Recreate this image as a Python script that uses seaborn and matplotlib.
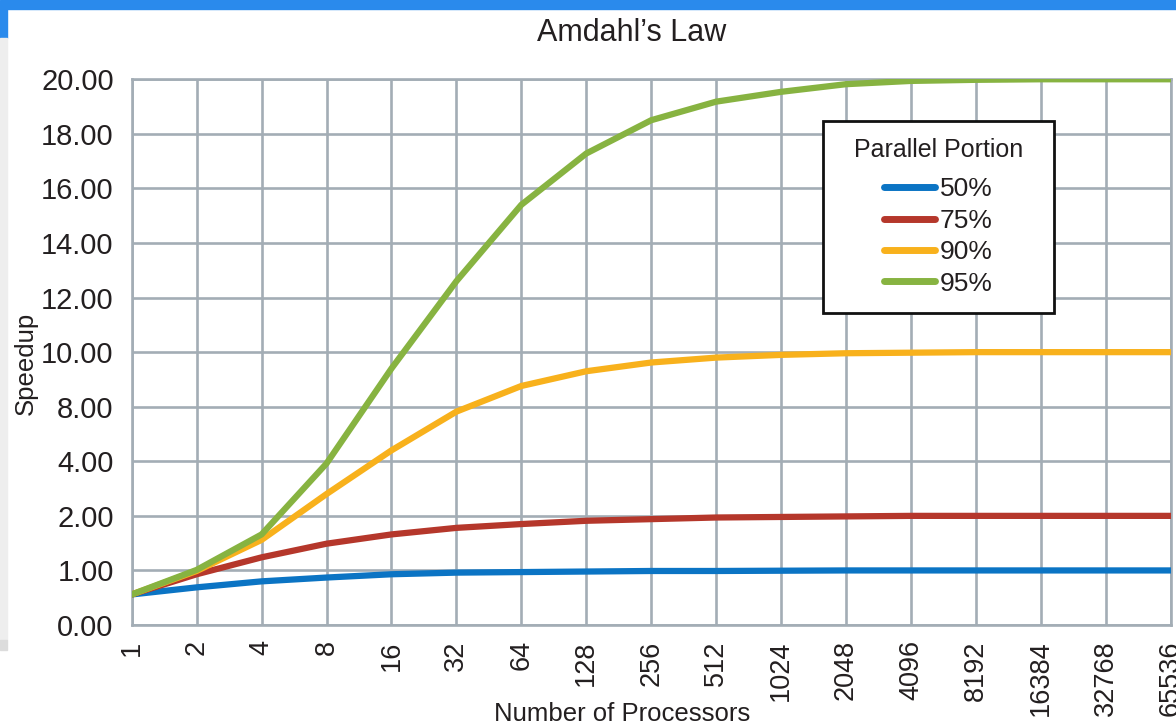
import numpy as np
import pandas as pd
import matplotlib
matplotlib.use("Agg")
import matplotlib.pyplot as plt
from matplotlib.lines import Line2D
from matplotlib.patches import Rectangle
from matplotlib.ticker import NullLocator
from matplotlib.offsetbox import DrawingArea
import seaborn as sns

# data (speedup as labelled on the odd y axis)
processors = [2 ** k for k in range(17)]
portions = ["50%", "75%", "90%", "95%"]
speedup_50 = [0.56, 0.69, 0.80, 0.87, 0.93, 0.96, 0.97, 0.98, 0.99, 0.99,
              0.995, 1.0, 1.0, 1.0, 1.0, 1.0, 1.0]
speedup_75 = [0.56, 0.93, 1.24, 1.49, 1.66, 1.78, 1.85, 1.91, 1.94, 1.97,
              1.98, 1.99, 2.0, 2.0, 2.0, 2.0, 2.0]
speedup_90 = [0.56, 0.99, 1.56, 2.80, 4.80, 7.64, 8.76, 9.30, 9.62, 9.80,
              9.90, 9.96, 9.98, 10.0, 10.0, 10.0, 10.0]
speedup_95 = [0.56, 1.01, 1.66, 3.92, 9.40, 12.6, 15.4, 17.28, 18.5, 19.18,
              19.54, 19.82, 19.94, 19.98, 20.0, 20.0, 20.0]
y_ticks = [0, 1, 2, 4, 8, 10, 12, 14, 16, 18, 20]
colors = ["#0b74c4", "#b5372b", "#f8b11c", "#87b341"]

df = pd.DataFrame({
    "processors": processors * 4,
    "speedup": speedup_50 + speedup_75 + speedup_90 + speedup_95,
    "portion": [p for p in portions for _ in processors],
})

sns.set_style("white")
plt.rcParams["font.family"] = ["Liberation Sans", "DejaVu Sans"]
text_col = "#231f20"
grid_col = "#a3adb5"

fig = plt.figure(figsize=(11.76, 7.26), dpi=100)
ax = fig.add_axes([0.112, 0.1391, 0.8835, 0.7517])

sns.lineplot(data=df, x="processors", y="speedup", hue="portion",
             palette=dict(zip(portions, colors)), linewidth=4.5,
             legend=False, ax=ax, zorder=3)

# y axis: the ticks are evenly spaced although the values are not
tick_vals = [-1] + y_ticks + [22]
tick_pos = list(range(-1, len(y_ticks) + 1))
ax.set_yscale("function", functions=(lambda v: np.interp(v, tick_vals, tick_pos),
                                     lambda p: np.interp(p, tick_pos, tick_vals)))
ax.set_ylim(0, 20)
ax.set_yticks(y_ticks)
ax.set_yticklabels([f"{v:.2f}" for v in y_ticks])

ax.set_xscale("log", base=2)
ax.set_xlim(1, 65536)
ax.set_xticks(processors)
ax.set_xticklabels([str(p) for p in processors], rotation=90)
ax.xaxis.set_minor_locator(NullLocator())

ax.grid(True, color=grid_col, linewidth=1.9)
for s in ax.spines.values():
    s.set_color(grid_col)
    s.set_linewidth(1.9)
ax.tick_params(axis="y", length=5, width=1.9, color=grid_col,
               labelsize=21, labelcolor=text_col, pad=8)
ax.tick_params(axis="x", length=5, width=1.9, color=grid_col,
               labelsize=19.5, labelcolor=text_col, pad=6)
ax.set_xlabel("")
ax.set_ylabel("")

fig.text(0.537, 0.955, "Amdahl\u2019s Law", ha="center", va="center",
         fontsize=22, color=text_col)
fig.text(0.529, 0.016, "Number of Processors", ha="center", va="center",
         fontsize=18.5, color=text_col)
fig.text(0.022, 0.5, "Speedup", ha="center", va="center", rotation=90,
         fontsize=18.5, color=text_col)

handles = [Line2D([], [], color=c, linewidth=5) for c in colors]
leg = ax.legend(handles, portions, title="  Parallel Portion  ",
                loc="upper left", bbox_to_anchor=(0.6996, 0.8337),
                bbox_transform=fig.transFigure, borderaxespad=0,
                fontsize=19, title_fontsize=18, frameon=True, fancybox=False,
                handlelength=1.9, handletextpad=0.2, labelspacing=0.28,
                borderpad=0.65)
# a bit more room between the title and the entries
leg._legend_box._children.insert(1, DrawingArea(1, 0.5))
leg.get_frame().set_edgecolor("#111111")
leg.get_frame().set_linewidth(2)
leg.get_frame().set_facecolor("white")
leg.get_frame().set_alpha(1)
leg.set_zorder(5)
for t in leg.get_texts():
    t.set_color(text_col)
leg.get_title().set_color(text_col)

# screenshot frame around the chart
fig.patches.append(Rectangle((0, 1 - 9 / 726), 1, 9 / 726, transform=fig.transFigure,
                             color="#2a8aec", zorder=0))
fig.patches.append(Rectangle((0, 1 - 38 / 726), 7 / 1176, 29 / 726, transform=fig.transFigure,
                             color="#2a8aec", zorder=0))
fig.patches.append(Rectangle((0, 1 - 640 / 726), 7 / 1176, 602 / 726, transform=fig.transFigure,
                             color="#eeeeee", zorder=0))
fig.patches.append(Rectangle((0, 1 - 650 / 726), 7 / 1176, 10 / 726, transform=fig.transFigure,
                             color="#dcdcdc", zorder=0))

fig.savefig("out.png", dpi=100)
